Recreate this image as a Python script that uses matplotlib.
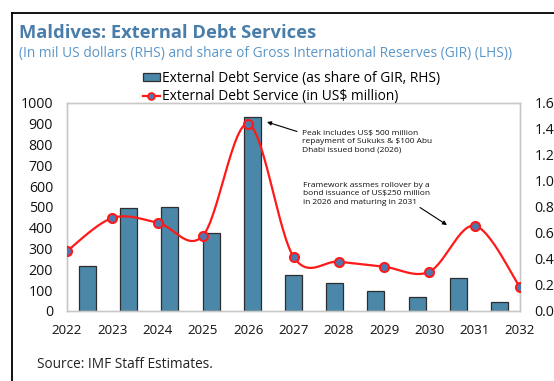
import numpy as np
import matplotlib
matplotlib.use("Agg")
from matplotlib import pyplot as plt
from matplotlib.lines import Line2D
from matplotlib.patches import Patch

# data
years = ['2022', '2023', '2024', '2025', '2026', '2027',
         '2028', '2029', '2030', '2031', '2032']
debt_service_musd = [288, 447, 425, 362, 899, 261, 237, 213, 189, 410, 114]
debt_service_gir = [0.346, 0.795, 0.802, 0.598, 1.495, 0.274,
                    0.215, 0.151, 0.105, 0.254, 0.067]
left_ticks = list(range(0, 1001, 100))
right_ticks = [0.0, 0.2, 0.4, 0.6, 0.8, 1.0, 1.2, 1.4, 1.6]

plt.rcParams['font.family'] = ['Open Sans', 'DejaVu Sans']

W, H = 554, 381
fig = plt.figure(figsize=(W / 100, H / 100), dpi=100)


def fx(px):
    return px / W


def fy(py):
    return 1 - py / H


def smooth(xs, ys, n=30):
    # excel style smoothed line (catmull-rom as bezier segments)
    xs = np.asarray(xs, float)
    ys = np.asarray(ys, float)
    P = np.column_stack([xs, ys])
    P = np.vstack([P[0], P, P[-1]])
    out = []
    t = np.linspace(0, 1, n)[:, None]
    for i in range(1, len(P) - 2):
        p0, p1, p2, p3 = P[i - 1], P[i], P[i + 1], P[i + 2]
        c1 = p1 + (p2 - p0) / 6
        c2 = p2 - (p3 - p1) / 6
        seg = ((1 - t) ** 3) * p1 + 3 * ((1 - t) ** 2) * t * c1 \
            + 3 * (1 - t) * t ** 2 * c2 + t ** 3 * p2
        out.append(seg if i == 1 else seg[1:])
    out = np.vstack(out)
    return out[:, 0], out[:, 1]


ax = fig.add_axes([fx(67), fy(311), fx(520) - fx(67), fy(103) - fy(311)])
ax2 = ax.twinx()

n = len(years)
xline = np.arange(n) * (10 / (n - 1))
xbar = (np.arange(n) + 0.5) * (10 / n)

bar_color = '#4A87A9'
ax2.bar(xbar, debt_service_gir, width=0.375, color=bar_color,
        edgecolor='#2E2E2E', linewidth=0.9, zorder=2)

sx, sy = smooth(xline, debt_service_musd)
ax.plot(sx, sy, color='#FF1A1A', lw=1.6, zorder=3)
ax.plot(xline, debt_service_musd, ls='none', marker='o', ms=6.5,
        mfc='#4E78B0', mec='#FF1A1A', mew=1.5, zorder=4)
ax.set_zorder(ax2.get_zorder() + 1)
ax.patch.set_visible(False)

ax.set_xlim(0, 10)
ax.set_ylim(0, 1000)
ax2.set_ylim(0, 1.6)
ax.set_yticks(left_ticks)
ax.set_yticklabels([str(v) for v in left_ticks])
ax2.set_yticks(right_ticks)
ax2.set_yticklabels(['%.1f' % v for v in right_ticks])
ax.set_xticks(xline)
ax.set_xticklabels(years)

# pads in points (px * 0.72)
ax.tick_params(axis='y', length=0, pad=10, labelsize=10.2, labelcolor='#111111')
ax2.tick_params(axis='y', length=0, pad=10.5, labelsize=10.2, labelcolor='#111111')
ax.tick_params(axis='x', length=0, pad=9.5, labelsize=9.6, labelcolor='#111111')
for a in (ax, ax2):
    for s in a.spines.values():
        s.set_color('#C8C8C8')
        s.set_linewidth(1)

# annotations
ax.annotate('', xy=((267 - 67) / 45.3, (311 - 122) / 0.208),
            xytext=((297 - 67) / 45.3, (311 - 131.5) / 0.208),
            arrowprops=dict(arrowstyle='-|>', color='black', lw=0.8,
                            mutation_scale=6, shrinkA=0, shrinkB=0))
ax.text((302 - 67) / 45.3, (311 - 130) / 0.208,
        'Peak includes US$ 500 million\nrepayment of Sukuks & $100 Abu\nDhabi issued bond (2026)',
        fontsize=6.0, va='top', ha='left', linespacing=1.25, color='#111111')
ax.annotate('', xy=((447 - 67) / 45.3, (311 - 225) / 0.208),
            xytext=((420 - 67) / 45.3, (311 - 207.5) / 0.208),
            arrowprops=dict(arrowstyle='-|>', color='black', lw=0.8,
                            mutation_scale=6, shrinkA=0, shrinkB=0))
ax.text((302.5 - 67) / 45.3, (311 - 182) / 0.208,
        'Framework assmes rollover by a\nbond issuance of US$250 million\nin 2026 and maturing in 2031',
        fontsize=6.0, va='top', ha='left', linespacing=1.25, color='#111111')

# legend
handles = [Patch(facecolor=bar_color, edgecolor='#2E2E2E', linewidth=0.9),
           Line2D([], [], color='#FF1A1A', lw=1.6, marker='o', ms=5,
                  mfc='#4E78B0', mec='#FF1A1A', mew=1.2)]
labels = ['External Debt Service (as share of GIR, RHS)',
          'External Debt Service (in US$ million)']
fig.legend(handles, labels, loc='upper left', bbox_to_anchor=(fx(143), fy(71)),
           frameon=False, fontsize=9.9, borderpad=0, borderaxespad=0,
           handlelength=1.2, handleheight=0.55, handletextpad=0.15,
           labelspacing=0.22)

# titles
fig.text(fx(19), fy(33), 'Maldives: External Debt Services', fontsize=13.2,
         fontweight='bold', color='#4A7EAA', va='center', ha='left')
fig.text(fx(19), fy(54),
         '(In mil US dollars (RHS) and share of Gross International Reserves (GIR) (LHS))',
         fontsize=9.9, color='#5B96C8', va='center', ha='left')
fig.text(fx(37), fy(364), 'Source: IMF Staff Estimates.', fontsize=9.8,
         color='#222222', va='center', ha='left')

# outer frame (top and left edges visible)
fig.add_artist(Line2D([fx(11.5), 1.0], [fy(12.5), fy(12.5)], color='black', lw=1.3))
fig.add_artist(Line2D([fx(11.5), fx(11.5)], [fy(12.5), 0.0], color='black', lw=1.3))

fig.savefig('out.png', dpi=100)
